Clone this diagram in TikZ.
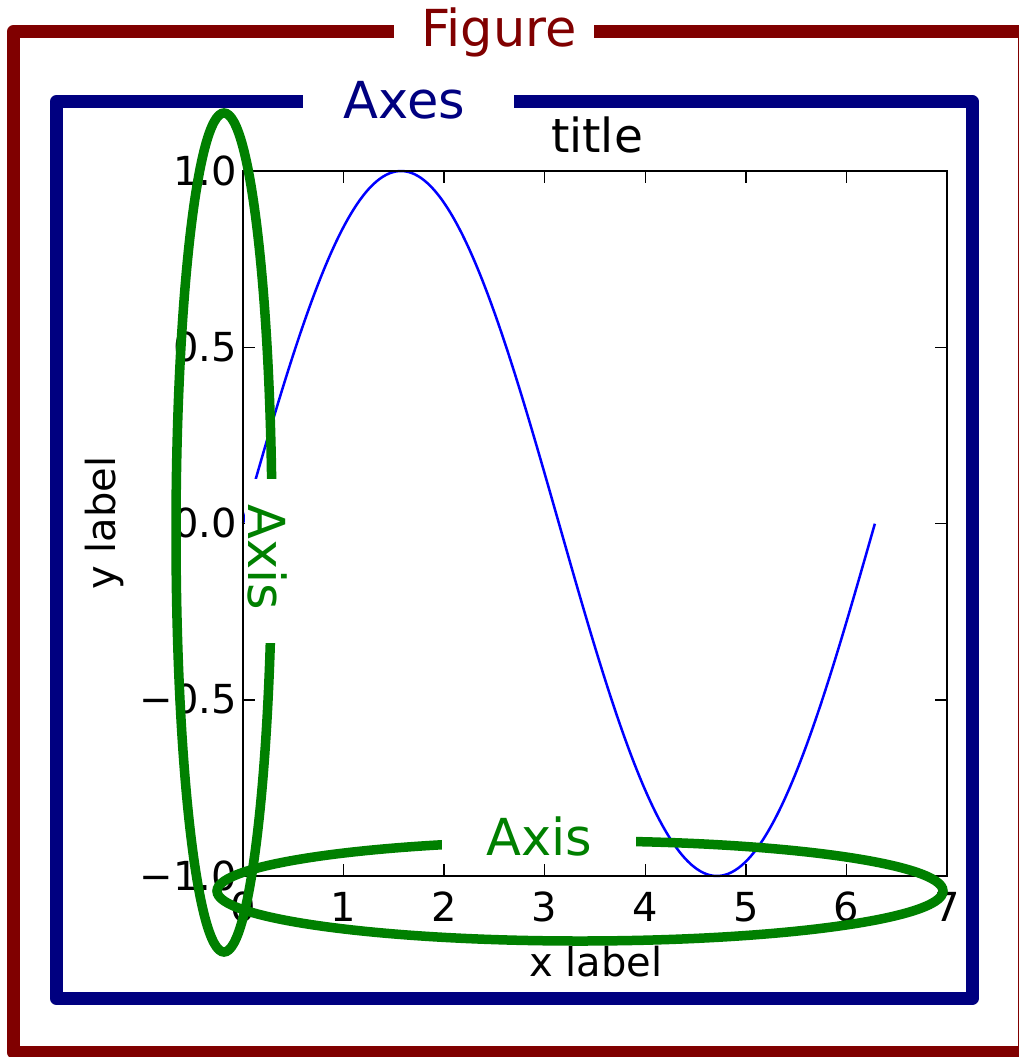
\documentclass[tikz,border=0pt]{standalone}
\usepackage{fontspec}
\setmainfont{DejaVu Sans}
\definecolor{figred}{HTML}{800000}
\definecolor{axnavy}{HTML}{000080}
\definecolor{axgreen}{HTML}{008000}
\begin{document}
\begin{tikzpicture}[x=1pt,y=-1pt,
  frameline/.style={line width=13pt, line join=round, line cap=butt},
  axisring/.style={draw=axgreen, line width=9.5pt},
  biglabel/.style={font=\fontsize{51}{51}\selectfont, inner sep=0pt, anchor=base},
  ticklabel/.style={font=\fontsize{40}{40}\selectfont, inner sep=0pt},
  spine/.style={draw=black, line width=2pt},
  tickmark/.style={draw=black, line width=1.5pt},
]
\useasboundingbox (0,0) rectangle (1019,1057);
\clip (0,0) rectangle (1019,1057);
\fill[white] (0,0) rectangle (1019,1057);

% ---- the plot ----
\begin{scope}[shift={(243,523.5)}, x=100.571pt, y=352.5pt]
  \draw[blue, line width=2.5pt] plot[domain=0:6.2832, samples=200, smooth] (\x,{sin(\x r)});
  \draw[spine] (0,-1) rectangle (7,1);
  \foreach \i in {0,...,7} {
    \draw[tickmark] (\i,-1) -- ++(0pt,12pt);
    \draw[tickmark] (\i,1) -- ++(0pt,-12pt);
    \node[ticklabel, anchor=base] (xt\i) at ([yshift=-45pt]\i,-1) {\i};
  }
  \foreach \v/\t/\n in {-1/{−1.0}/a, -0.5/{−0.5}/b, 0/{0.0}/c, 0.5/{0.5}/d, 1/{1.0}/e} {
    \draw[tickmark] (0,\v) -- ++(12pt,0pt);
    \draw[tickmark] (7,\v) -- ++(-12pt,0pt);
    \node[ticklabel, anchor=base east] (yt\n) at ([xshift=-6pt,yshift=-14pt]0,\v) {\t};
  }
\end{scope}

\node[font=\fontsize{47}{47}\selectfont, inner sep=0pt, anchor=base] (title) at (597,152) {title};
\node[ticklabel, anchor=base] (xlabel) at (596,976) {x label};
\node[ticklabel, anchor=base, rotate=90] (ylabel) at (115,523) {y label};

% ---- green Axis rings ----
\draw[axisring] (224,532.5) ellipse [x radius=48, y radius=419.5];
\draw[axisring] (580,891) ellipse [x radius=363, y radius=50];
\fill[white] (244.5,479) rectangle (286,643);
\fill[white] (442,812) rectangle (636,862);

% ---- Axes and Figure frames ----
\draw[frameline, axnavy] (514,101.5) -- (972,101.5) -- (972,998.5) -- (56.5,998.5) -- (56.5,101.5) -- (303,101.5);
\draw[frameline, figred] (594,31.5) -- (1024,31.5) -- (1024,1052) -- (13.5,1052) -- (13.5,31.5) -- (394,31.5);

% ---- labels ----
\node[biglabel, text=figred] (figlabel) at (499,47) {Figure};
\node[biglabel, text=axnavy] (axeslabel) at (404.5,118) {Axes};
\node[biglabel, text=axgreen] (xaxislabel) at (539.5,855) {Axis};
\node[biglabel, text=axgreen, rotate=-90] (yaxislabel) at (248,557.5) {Axis};
\end{tikzpicture}
\end{document}
